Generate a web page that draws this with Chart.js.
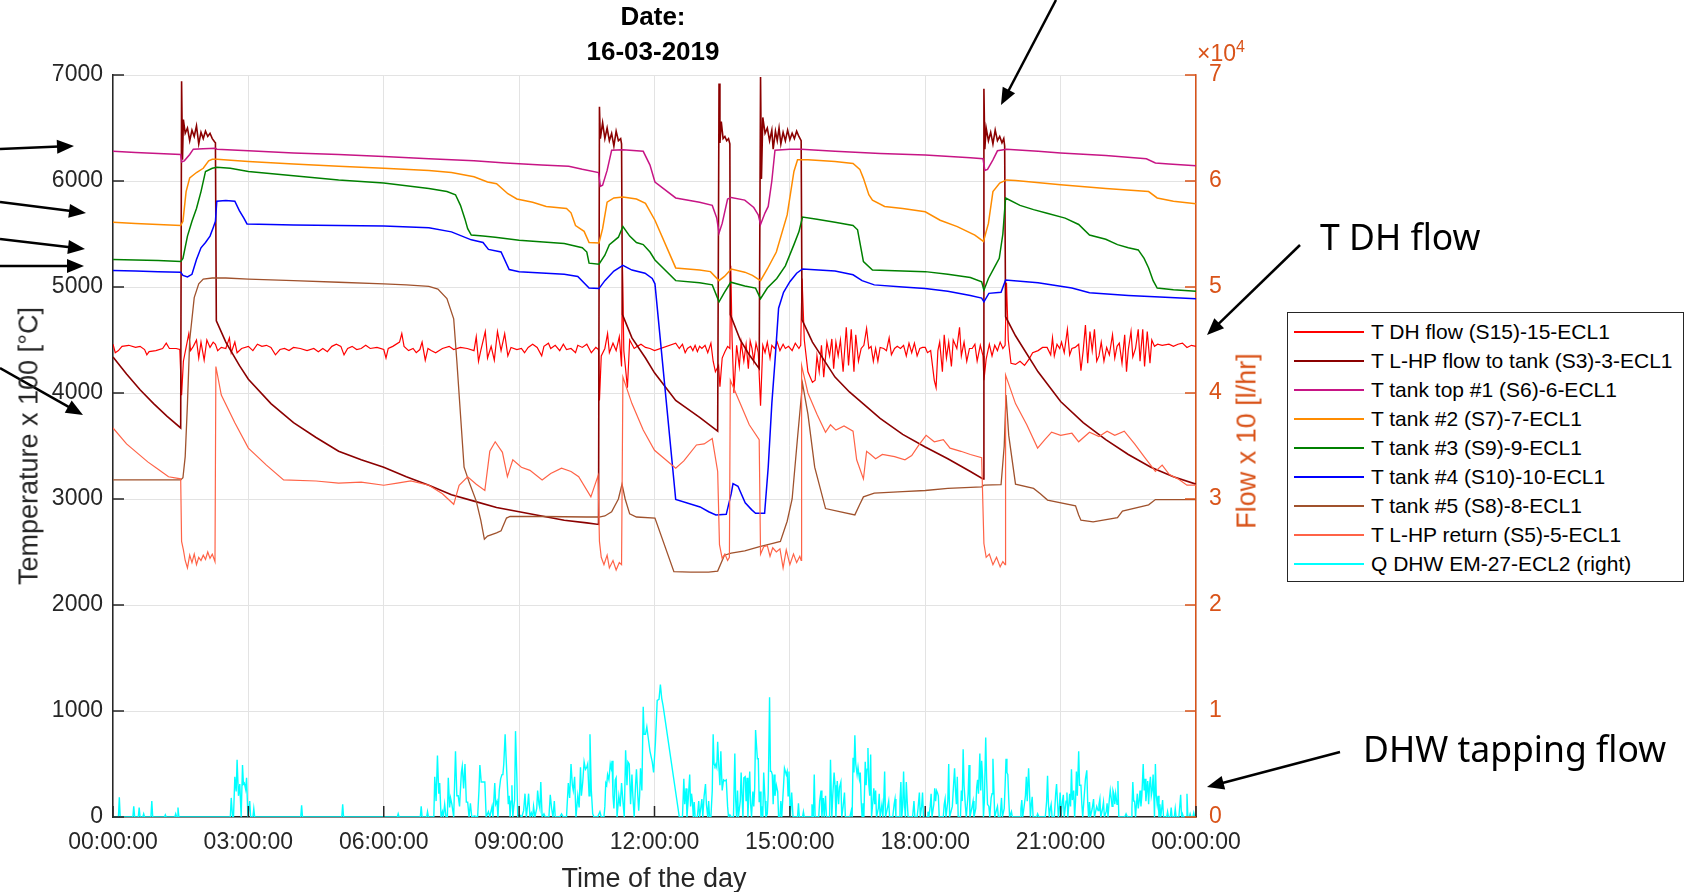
<!DOCTYPE html>
<html>
<head>
<meta charset="utf-8">
<title>16-03-2019</title>
<script src="https://cdn.jsdelivr.net/npm/chart.js@4.4.1/dist/chart.umd.min.js"></script>
<style>
body { margin: 0; background: #fff; }
#wrap { position: relative; width: 1693px; height: 892px; font-family: "Liberation Sans", Arial, sans-serif; color: #262626; overflow: hidden; }
#c { position: absolute; left: 0; top: 0; }
.t { position: absolute; white-space: nowrap; }
.ttl { left: 653px; transform: translate(-50%, -50%); font-weight: bold; font-size: 26px; color: #000; }
.atitle { font-size: 27px; transform: translate(-50%, -50%) rotate(-90deg); }
.note { font-family: "Noto Sans", "Open Sans", sans-serif; font-size: 35.5px; line-height: 1; color: #000; }
#legend { position: absolute; left: 1287px; top: 312px; width: 395px; height: 264px; border: 1px solid #262626; background: #fff; padding-top: 4px; box-sizing: content-box; }
#legend .row { height: 29px; display: flex; align-items: center; font-size: 21px; color: #000; }
#legend .sw { display: inline-block; width: 70px; height: 2px; margin: 0 7px 0 6px; }
</style>
</head>
<body>
<div id="wrap">
  <canvas id="c" width="1693" height="892"></canvas>
  <div class="t ttl" style="top:16px">Date:</div>
  <div class="t ttl" style="top:51px">16-03-2019</div>
  <div class="t atitle" style="left:29px; top:446px">Temperature x 100 [°C]</div>
  <div class="t atitle" style="left:1247px; top:441px; color:#D95319">Flow x 10 [l/hr]</div>
  <div class="t" style="left:654px; top:878px; transform:translate(-50%,-50%); font-size:27px">Time of the day</div>
  <div class="t" style="left:1197px; top:38px; color:#D95319; font-size:23px">×10<sup style="font-size:16px">4</sup></div>
  <div class="t note" style="left:1320px; top:219px">T DH flow</div>
  <div class="t note" style="left:1363px; top:731px">DHW tapping flow</div>
  <div id="legend"></div>
</div>
<script>
// time in hours of the day, temperatures x100 (left axis), flow (right axis)
var seriesNames = [
    "T DH flow (S15)-15-ECL1",
    "T L-HP flow to tank (S3)-3-ECL1",
    "T tank top #1 (S6)-6-ECL1",
    "T tank #2 (S7)-7-ECL1",
    "T tank #3 (S9)-9-ECL1",
    "T tank #4 (S10)-10-ECL1",
    "T tank #5 (S8)-8-ECL1",
    "T L-HP return (S5)-5-ECL1",
    "Q DHW EM-27-ECL2 (right)"
];
var xTicks = [0, 3, 6, 9, 12, 15, 18, 21, 24];

var dhFlow = [[0,4460],[0.05,4380],[0.12,4400],[0.2,4440],[0.35,4450],[0.5,4430],[0.6,4440],[0.7,4410],[0.75,4360],[0.8,4390],[0.95,4400],[1.1,4420],[1.18,4470],[1.25,4420],[1.4,4420],[1.48,4410],[1.52,3980],[1.56,4300],[1.62,4430],[1.68,4560],[1.72,4400],[1.78,4440],[1.85,4500],[1.9,4330],[1.95,4480],[2.02,4310],[2.08,4500],[2.15,4430],[2.22,4480],[2.27,4460],[2.32,4400],[2.4,4430],[2.5,4420],[2.58,4520],[2.62,4380],[2.7,4480],[2.75,4380],[2.85,4420],[3.0,4440],[3.1,4400],[3.2,4460],[3.3,4440],[3.4,4450],[3.5,4430],[3.6,4360],[3.7,4410],[3.8,4420],[3.9,4400],[4.0,4430],[4.15,4420],[4.3,4400],[4.45,4420],[4.55,4390],[4.65,4420],[4.75,4390],[4.85,4440],[4.95,4460],[5.05,4440],[5.12,4360],[5.2,4420],[5.3,4440],[5.4,4410],[5.5,4420],[5.6,4450],[5.7,4420],[5.85,4430],[6.0,4410],[6.05,4330],[6.1,4420],[6.2,4440],[6.35,4480],[6.4,4560],[6.45,4440],[6.55,4400],[6.65,4420],[6.72,4380],[6.8,4410],[6.85,4480],[6.92,4310],[6.98,4420],[7.05,4400],[7.15,4380],[7.3,4420],[7.45,4440],[7.55,4410],[7.7,4430],[7.85,4420],[8.0,4400],[8.05,4530],[8.1,4300],[8.15,4400],[8.25,4580],[8.3,4330],[8.38,4440],[8.45,4310],[8.52,4580],[8.6,4400],[8.68,4560],[8.75,4350],[8.82,4430],[8.95,4410],[9.05,4420],[9.12,4380],[9.2,4430],[9.3,4460],[9.4,4430],[9.5,4350],[9.55,4440],[9.65,4470],[9.7,4420],[9.8,4450],[9.9,4400],[9.98,4460],[10.05,4410],[10.15,4420],[10.25,4380],[10.3,4450],[10.4,4430],[10.5,4460],[10.6,4380],[10.7,4430],[10.76,4410],[10.78,3930],[10.82,4350],[10.9,4420],[10.96,4560],[11.0,4380],[11.08,4470],[11.15,4400],[11.22,4530],[11.27,4250],[11.29,5200],[11.32,4400],[11.4,4050],[11.45,4500],[11.55,4420],[11.62,4440],[11.7,4460],[11.8,4430],[11.9,4420],[12.0,4400],[12.47,4470],[12.55,4420],[12.62,4460],[12.68,4380],[12.73,4420],[12.8,4440],[12.85,4400],[12.9,4450],[12.95,4390],[13.0,4440],[13.05,4420],[13.12,4450],[13.18,4380],[13.25,4470],[13.3,4300],[13.35,4200],[13.42,4260],[13.45,4060],[13.5,4330],[13.56,4390],[13.62,4440],[13.67,4420],[13.69,5200],[13.72,4500],[13.76,4000],[13.82,4450],[13.88,4250],[13.92,4480],[13.98,4300],[14.03,4460],[14.08,4230],[14.12,4490],[14.16,4420],[14.2,4300],[14.25,4470],[14.3,4380],[14.35,3880],[14.4,4450],[14.45,4380],[14.5,4480],[14.56,4330],[14.6,4450],[14.66,4420],[14.72,4480],[14.78,4400],[14.85,4460],[14.9,4420],[14.97,4440],[15.05,4400],[15.12,4470],[15.2,4420],[15.24,4450],[15.27,5080],[15.32,4500],[15.4,4200],[15.5,4100],[15.56,4120],[15.6,4350],[15.65,4200],[15.7,4450],[15.75,4150],[15.82,4480],[15.88,4350],[15.93,4510],[15.97,4230],[16.02,4480],[16.07,4350],[16.12,4500],[16.18,4200],[16.25,4620],[16.3,4260],[16.36,4600],[16.42,4200],[16.46,4550],[16.52,4300],[16.58,4420],[16.64,4450],[16.7,4610],[16.75,4420],[16.8,4440],[16.85,4300],[16.9,4420],[16.95,4300],[17.0,4430],[17.08,4420],[17.14,4400],[17.2,4520],[17.25,4360],[17.32,4420],[17.38,4440],[17.45,4420],[17.52,4450],[17.58,4350],[17.64,4470],[17.7,4380],[17.76,4470],[17.82,4350],[17.88,4420],[17.94,4430],[18.0,4430],[18.05,4380],[18.12,4400],[18.2,4120],[18.24,4050],[18.28,4400],[18.32,4480],[18.38,4200],[18.42,4550],[18.47,4330],[18.52,4480],[18.58,4250],[18.62,4500],[18.7,4420],[18.76,4620],[18.8,4350],[18.86,4480],[18.92,4300],[18.98,4420],[19.04,4420],[19.1,4460],[19.15,4300],[19.22,4450],[19.28,4350],[19.3,4120],[19.35,4320],[19.42,4460],[19.48,4350],[19.54,4450],[19.6,4400],[19.66,4480],[19.72,4420],[19.77,4450],[19.8,5040],[19.84,4500],[19.9,4280],[20.0,4270],[20.1,4300],[20.2,4260],[20.3,4320],[20.38,4380],[20.5,4400],[20.6,4430],[20.7,4430],[20.78,4360],[20.82,4520],[20.86,4350],[20.92,4460],[20.98,4420],[21.02,4480],[21.08,4380],[21.15,4600],[21.2,4360],[21.25,4420],[21.32,4430],[21.4,4460],[21.45,4210],[21.5,4400],[21.55,4640],[21.6,4280],[21.65,4580],[21.7,4400],[21.75,4600],[21.8,4300],[21.85,4350],[21.9,4480],[21.96,4300],[22.02,4430],[22.08,4360],[22.15,4550],[22.2,4330],[22.25,4440],[22.3,4470],[22.36,4280],[22.42,4550],[22.46,4200],[22.5,4410],[22.56,4580],[22.6,4340],[22.66,4420],[22.72,4600],[22.76,4300],[22.82,4600],[22.86,4250],[22.92,4580],[22.98,4280],[23.02,4500],[23.08,4440],[23.15,4460],[23.25,4450],[23.4,4460],[23.5,4440],[23.6,4460],[23.7,4470],[23.8,4430],[23.9,4450],[24.0,4440]];

var hpFlowTank = [[0,4340],[0.3,4180],[0.6,4030],[0.9,3900],[1.2,3780],[1.5,3670],[1.52,6940],[1.54,6200],[1.56,6580],[1.6,6450],[1.65,6500],[1.7,6380],[1.75,6480],[1.8,6420],[1.85,6520],[1.9,6350],[1.95,6460],[2.0,6400],[2.05,6470],[2.1,6420],[2.15,6450],[2.2,6400],[2.25,6370],[2.27,6360],[2.29,4680],[2.5,4480],[2.8,4260],[3.0,4130],[3.5,3900],[4.0,3720],[4.5,3580],[5.0,3450],[5.5,3370],[6.0,3300],[6.5,3210],[7.0,3130],[7.5,3040],[8.0,2980],[8.5,2920],[9.0,2880],[9.5,2840],[10.0,2800],[10.5,2775],[10.76,2760],[10.78,6700],[10.8,6400],[10.85,6550],[10.9,6400],[10.95,6500],[11.0,6380],[11.05,6450],[11.1,6330],[11.15,6470],[11.2,6380],[11.25,6400],[11.27,6350],[11.29,4740],[11.5,4520],[11.8,4330],[12.0,4190],[12.47,3930],[13.0,3770],[13.4,3640],[13.43,6920],[13.45,6360],[13.48,6560],[13.52,6400],[13.56,6420],[13.6,6380],[13.64,6400],[13.67,6350],[13.68,4740],[13.9,4500],[14.1,4360],[14.32,4230],[14.35,6980],[14.37,6020],[14.4,6600],[14.45,6450],[14.5,6500],[14.55,6380],[14.6,6480],[14.63,6300],[14.68,6470],[14.72,6380],[14.76,6500],[14.8,6350],[14.85,6460],[14.9,6380],[14.95,6480],[15.0,6390],[15.05,6450],[15.1,6400],[15.15,6470],[15.2,6420],[15.25,6380],[15.27,4690],[15.5,4480],[16.0,4150],[16.32,4010],[17.0,3760],[17.5,3610],[18.0,3490],[18.5,3380],[19.0,3260],[19.28,3190],[19.3,6870],[19.32,6300],[19.35,6500],[19.4,6380],[19.45,6460],[19.5,6350],[19.55,6480],[19.6,6380],[19.65,6420],[19.7,6360],[19.74,6400],[19.76,6330],[19.78,4720],[20.0,4540],[20.5,4200],[21.0,3920],[21.5,3720],[22.0,3560],[22.5,3420],[23.0,3300],[23.5,3210],[24.0,3140]];

var tankTop1 = [[0,6280],[0.5,6270],[1.0,6260],[1.5,6250],[1.52,6180],[1.58,6190],[1.7,6250],[1.78,6300],[2.0,6305],[2.27,6310],[2.3,6300],[3.0,6285],[4.0,6265],[5.0,6250],[6.0,6230],[7.0,6210],[8.0,6190],[8.7,6170],[9.5,6150],[10.1,6140],[10.4,6110],[10.76,6080],[10.8,5950],[10.85,5960],[10.95,6100],[11.05,6290],[11.3,6295],[11.75,6280],[11.9,6150],[12.01,5990],[12.47,5840],[13.0,5800],[13.28,5770],[13.38,5650],[13.43,5510],[13.5,5600],[13.62,5830],[13.7,5845],[14.0,5820],[14.2,5750],[14.3,5680],[14.35,5590],[14.45,5700],[14.52,5760],[14.6,6000],[14.67,6290],[15.0,6300],[15.25,6300],[16.0,6280],[17.0,6260],[18.0,6245],[19.0,6220],[19.28,6210],[19.32,6100],[19.38,6110],[19.5,6200],[19.6,6285],[19.8,6300],[20.5,6280],[21.0,6265],[22.0,6240],[22.9,6210],[23.1,6170],[23.4,6160],[24.0,6145]];

var tank2 = [[0,5610],[0.5,5600],[1.0,5590],[1.5,5580],[1.55,5620],[1.62,5900],[1.7,6030],[1.85,6080],[2.0,6120],[2.12,6190],[2.2,6205],[2.3,6205],[3.0,6185],[4.0,6160],[5.0,6140],[6.0,6120],[7.0,6100],[7.5,6080],[8.0,6040],[8.3,5990],[8.5,5975],[8.75,5880],[8.95,5830],[9.3,5800],[9.6,5760],[10.05,5740],[10.15,5700],[10.25,5580],[10.44,5525],[10.55,5420],[10.77,5415],[10.85,5550],[10.95,5800],[11.1,5840],[11.3,5850],[11.6,5830],[11.8,5790],[12.01,5630],[12.47,5180],[13.0,5160],[13.24,5145],[13.43,5060],[13.55,5100],[13.7,5170],[14.0,5140],[14.17,5110],[14.35,5060],[14.5,5170],[14.7,5330],[14.94,5680],[15.09,6090],[15.17,6200],[15.4,6200],[16.0,6185],[16.4,6165],[16.55,6110],[16.63,6025],[16.75,5870],[16.83,5820],[17.1,5760],[17.5,5740],[18.0,5710],[18.33,5630],[18.71,5570],[19.1,5490],[19.29,5430],[19.4,5600],[19.5,5900],[19.65,5980],[19.8,6010],[20.0,6005],[21.0,5965],[22.0,5930],[22.95,5900],[23.14,5840],[23.5,5810],[24.0,5785]];

var tank3 = [[0,5260],[0.5,5255],[1.0,5250],[1.5,5240],[1.55,5270],[1.65,5480],[1.75,5620],[1.85,5740],[1.95,5900],[2.05,6090],[2.2,6120],[2.3,6130],[2.6,6120],[3.0,6090],[4.0,6050],[5.0,6010],[6.0,5980],[7.0,5930],[7.4,5900],[7.59,5870],[7.7,5770],[7.8,5640],[7.86,5550],[7.94,5490],[8.2,5480],[8.47,5470],[9.0,5440],[10.0,5410],[10.4,5370],[10.5,5330],[10.55,5225],[10.77,5215],[10.9,5300],[11.0,5400],[11.2,5470],[11.3,5570],[11.45,5480],[11.6,5420],[11.75,5400],[11.9,5330],[12.01,5255],[12.47,5060],[13.0,5040],[13.28,5020],[13.43,4860],[13.55,4950],[13.69,5045],[14.0,5010],[14.24,4990],[14.35,4890],[14.5,4990],[14.71,5080],[14.9,5200],[15.09,5400],[15.2,5520],[15.28,5660],[15.6,5640],[16.0,5610],[16.4,5580],[16.5,5540],[16.63,5240],[16.83,5160],[17.5,5150],[18.0,5145],[18.5,5120],[19.0,5090],[19.25,5050],[19.3,4970],[19.4,5080],[19.55,5200],[19.64,5270],[19.72,5500],[19.78,5840],[20.1,5770],[20.4,5730],[20.7,5695],[21.1,5650],[21.4,5590],[21.64,5490],[22.0,5450],[22.26,5400],[22.5,5370],[22.72,5350],[22.85,5270],[22.95,5180],[23.05,5060],[23.14,4990],[23.5,4975],[24.0,4960]];

var tank4 = [[0,5155],[0.5,5150],[1.0,5145],[1.5,5140],[1.55,5110],[1.65,5095],[1.75,5120],[1.85,5260],[1.95,5370],[2.05,5420],[2.15,5480],[2.22,5560],[2.27,5620],[2.3,5810],[2.5,5815],[2.7,5810],[2.8,5720],[2.9,5650],[2.97,5595],[3.5,5590],[4.0,5585],[5.0,5580],[6.0,5575],[7.0,5560],[7.5,5520],[7.94,5445],[8.2,5420],[8.32,5355],[8.6,5330],[8.78,5165],[9.0,5145],[10.0,5120],[10.3,5100],[10.55,4990],[10.77,4985],[10.9,5060],[11.1,5150],[11.3,5205],[11.5,5160],[11.79,5130],[11.95,5080],[12.01,5030],[12.47,2995],[13.01,2925],[13.2,2880],[13.36,2850],[13.59,2855],[13.7,3050],[13.74,3145],[13.85,3120],[14.01,2965],[14.15,2900],[14.24,2865],[14.44,2865],[14.52,3300],[14.6,3900],[14.67,4300],[14.75,4800],[14.86,4950],[15.0,5050],[15.15,5130],[15.28,5170],[16.0,5150],[16.4,5115],[16.6,5060],[16.87,5020],[17.5,5000],[18.0,4985],[18.5,4960],[19.0,4920],[19.25,4895],[19.3,4860],[19.41,4940],[19.68,4950],[19.78,5065],[20.5,5040],[21.25,4990],[21.64,4945],[22.5,4920],[23.2,4905],[24.0,4890]];

var tank5 = [[0,3180],[0.5,3180],[1.0,3180],[1.5,3180],[1.55,3200],[1.6,3400],[1.65,3900],[1.7,4500],[1.8,4900],[1.9,5030],[2.0,5075],[2.2,5085],[2.5,5085],[3.0,5075],[4.0,5060],[5.0,5045],[6.0,5030],[6.5,5020],[7.0,5005],[7.2,4980],[7.4,4890],[7.55,4700],[7.62,4300],[7.7,3800],[7.78,3300],[7.9,3150],[8.05,2980],[8.15,2800],[8.23,2620],[8.3,2650],[8.5,2680],[8.6,2700],[8.72,2820],[8.8,2835],[9.5,2835],[10.5,2830],[10.77,2830],[10.9,2840],[11.05,2880],[11.2,3000],[11.28,3140],[11.35,3000],[11.45,2860],[11.6,2830],[12.01,2820],[12.43,2315],[12.8,2310],[13.2,2310],[13.4,2320],[13.55,2470],[13.7,2490],[14.0,2510],[14.33,2550],[14.6,2580],[14.79,2600],[14.94,2790],[15.05,3000],[15.17,3580],[15.28,4090],[15.4,3800],[15.55,3300],[15.79,2910],[16.1,2880],[16.44,2850],[16.55,2950],[16.63,3020],[16.87,3055],[17.5,3070],[18.0,3080],[18.5,3100],[19.25,3115],[19.3,3130],[19.68,3135],[19.75,3500],[19.79,3980],[19.85,3600],[20.0,3140],[20.4,3100],[20.55,3050],[20.71,2990],[21.33,2935],[21.4,2850],[21.45,2800],[21.72,2785],[22.26,2825],[22.37,2885],[22.95,2945],[23.1,2995],[24.0,2995]];

var hpReturn = [[0,3670],[0.3,3520],[0.77,3350],[1.0,3280],[1.23,3210],[1.5,3190],[1.52,2600],[1.56,2520],[1.6,2420],[1.65,2350],[1.7,2470],[1.75,2400],[1.8,2480],[1.85,2380],[1.9,2450],[1.95,2420],[2.0,2470],[2.05,2430],[2.1,2500],[2.15,2440],[2.2,2480],[2.26,2410],[2.28,4250],[2.4,3980],[2.7,3720],[3.0,3480],[3.4,3320],[3.78,3180],[4.5,3170],[5.0,3150],[5.5,3160],[6.0,3130],[6.3,3150],[6.6,3170],[7.0,3130],[7.3,3050],[7.55,2950],[7.67,3130],[7.86,3210],[8.05,3140],[8.24,3080],[8.35,3450],[8.47,3540],[8.63,3440],[8.74,3210],[8.86,3370],[9.05,3300],[9.24,3270],[9.51,3180],[9.7,3240],[9.94,3290],[10.15,3260],[10.32,3210],[10.59,3020],[10.75,3220],[10.78,2600],[10.82,2450],[10.88,2380],[10.95,2470],[11.0,2350],[11.08,2420],[11.15,2330],[11.22,2400],[11.27,2380],[11.3,4150],[11.5,3900],[11.75,3650],[12.0,3460],[12.47,3290],[12.65,3360],[12.93,3510],[13.1,3520],[13.28,3570],[13.4,3260],[13.44,2570],[13.5,2440],[13.56,2480],[13.62,2420],[13.66,2450],[13.68,4120],[13.9,3900],[14.1,3700],[14.32,3560],[14.35,2480],[14.42,2550],[14.5,2560],[14.56,2460],[14.62,2540],[14.7,2500],[14.78,2530],[14.85,2350],[14.92,2520],[15.0,2380],[15.08,2480],[15.15,2400],[15.22,2460],[15.25,2420],[15.26,4260],[15.4,4000],[15.6,3800],[15.79,3630],[15.9,3700],[16.02,3650],[16.2,3690],[16.4,3640],[16.48,3370],[16.63,3190],[16.7,3450],[16.79,3420],[16.9,3380],[17.05,3420],[17.32,3400],[17.55,3370],[17.7,3410],[17.86,3510],[18.02,3600],[18.2,3540],[18.4,3560],[18.55,3480],[18.79,3450],[19.0,3420],[19.25,3390],[19.3,2580],[19.35,2450],[19.42,2480],[19.5,2380],[19.58,2450],[19.66,2360],[19.72,2410],[19.77,2380],[19.78,4170],[20.0,3900],[20.25,3700],[20.49,3480],[20.65,3560],[20.8,3630],[21.0,3600],[21.25,3620],[21.4,3540],[21.64,3630],[21.85,3590],[22.03,3640],[22.2,3600],[22.41,3640],[22.64,3520],[22.85,3400],[23.1,3260],[23.25,3320],[23.41,3230],[23.6,3190],[23.8,3130],[24.0,3130]];

var dhwFlow = [[0,0],[0.12,0],[0.14,1850],[0.16,0],[0.44,0],[0.46,1000],[0.48,0],[0.56,0],[0.58,900],[0.6,0],[0.66,0],[0.68,300],[0.7,0],[0.84,0],[0.86,1500],[0.88,0],[1.14,0],[1.16,200],[1.18,0],[1.37,0],[1.39,300],[1.41,0],[1.43,0],[1.44,900],[1.46,0],[2.6,0],[2.62,1800],[2.65,0],[2.67,0],[2.7,3800],[2.73,2400],[2.75,5400],[2.78,2000],[2.81,3100],[2.84,0],[2.87,4900],[2.89,3100],[2.91,3200],[2.94,2600],[2.96,3700],[2.99,0],[3.03,1500],[3.05,0],[3.1,0],[3.12,800],[3.14,0],[4.16,0],[4.18,1100],[4.2,0],[5.07,0],[5.09,1200],[5.11,0],[6.3,0],[6.32,300],[6.34,0],[6.81,0],[6.83,1000],[6.85,0],[6.95,0],[6.97,500],[6.99,0],[7.11,0],[7.13,3800],[7.16,1500],[7.19,5800],[7.22,2200],[7.24,3200],[7.27,0],[7.3,500],[7.32,0],[7.35,1200],[7.38,0],[7.41,0],[7.43,3700],[7.46,900],[7.48,1800],[7.51,1200],[7.55,0],[7.59,6200],[7.62,2000],[7.65,2000],[7.68,1000],[7.72,4200],[7.74,4800],[7.77,2700],[7.8,5000],[7.83,1400],[7.86,1400],[7.89,0],[7.92,1300],[7.95,0],[8.01,100],[8.08,0],[8.11,2500],[8.13,4900],[8.16,3300],[8.18,3300],[8.21,3300],[8.24,3300],[8.27,0],[8.3,300],[8.32,500],[8.35,0],[8.4,1000],[8.42,0],[8.46,3200],[8.48,1200],[8.51,1500],[8.53,0],[8.56,2500],[8.59,3600],[8.62,4000],[8.64,4000],[8.66,5000],[8.69,7800],[8.71,5700],[8.73,5700],[8.76,1200],[8.78,2000],[8.8,0],[8.82,1500],[8.84,3000],[8.86,0],[8.88,900],[8.9,1600],[8.92,8100],[8.95,3700],[8.97,0],[9.01,200],[9.06,0],[9.1,600],[9.13,2200],[9.16,0],[9.19,1200],[9.21,2200],[9.24,0],[9.27,400],[9.3,0],[9.32,1000],[9.35,0],[9.39,800],[9.41,2500],[9.44,1200],[9.46,800],[9.48,3300],[9.51,0],[9.55,300],[9.58,0],[9.66,0],[9.69,2100],[9.72,800],[9.75,0],[9.78,1500],[9.8,0],[9.9,0],[9.94,300],[9.98,0],[10.05,0],[10.09,3200],[10.12,1800],[10.15,5000],[10.18,3000],[10.2,2500],[10.23,3800],[10.26,0],[10.3,2000],[10.33,900],[10.36,4700],[10.38,2000],[10.41,3300],[10.44,5200],[10.47,4500],[10.5,4700],[10.52,5000],[10.55,2000],[10.57,7800],[10.6,2500],[10.63,300],[10.66,0],[10.74,0],[10.79,500],[10.82,0],[10.88,0],[10.9,1000],[10.92,3200],[10.94,3000],[10.96,4000],[10.99,3500],[11.02,5000],[11.04,4600],[11.06,5300],[11.08,2000],[11.1,800],[11.13,3500],[11.15,3700],[11.17,0],[11.21,2000],[11.24,1000],[11.27,3200],[11.3,1500],[11.33,0],[11.36,6300],[11.39,3000],[11.41,5200],[11.44,5000],[11.47,1200],[11.5,4000],[11.52,2000],[11.55,0],[11.58,3000],[11.6,4500],[11.63,2000],[11.65,600],[11.67,2000],[11.69,4600],[11.72,2500],[11.75,10400],[11.77,7800],[11.8,7800],[11.83,8500],[11.86,7500],[11.9,6200],[11.95,5200],[11.98,4200],[12.02,7000],[12.06,11000],[12.1,11100],[12.13,12500],[12.16,11200],[12.19,10500],[12.55,0],[12.62,0],[12.65,3600],[12.67,1200],[12.7,2700],[12.72,0],[12.75,1800],[12.78,4000],[12.8,1000],[12.82,2200],[12.84,1500],[12.86,0],[12.88,1400],[12.9,0],[12.95,0],[12.98,1500],[13.0,0],[13.05,1700],[13.07,0],[13.1,2000],[13.13,3100],[13.15,1200],[13.18,0],[13.2,1500],[13.22,0],[13.25,0],[13.28,2500],[13.3,7800],[13.32,5000],[13.34,4800],[13.36,5000],[13.38,4700],[13.4,7100],[13.42,5200],[13.45,3000],[13.47,6200],[13.5,2500],[13.53,3500],[13.56,3400],[13.59,3500],[13.62,1000],[13.64,0],[13.67,200],[13.7,0],[13.75,0],[13.78,6000],[13.8,1500],[13.82,0],[13.84,2500],[13.86,0],[13.9,1500],[13.92,4200],[13.94,2000],[13.96,0],[13.98,3700],[14.01,3800],[14.03,1500],[14.05,3700],[14.07,0],[14.11,4300],[14.13,1200],[14.15,0],[14.18,2400],[14.2,1000],[14.22,2700],[14.24,8200],[14.26,6800],[14.28,5500],[14.3,5500],[14.32,1400],[14.34,2400],[14.36,0],[14.38,1000],[14.4,0],[14.42,4200],[14.45,1500],[14.47,0],[14.5,300],[14.52,2200],[14.55,11300],[14.57,4300],[14.59,4300],[14.61,4000],[14.63,1200],[14.65,4000],[14.67,2000],[14.7,3000],[14.73,2400],[14.75,0],[14.78,0],[14.8,1500],[14.82,0],[14.86,3000],[14.88,4600],[14.9,4300],[14.92,4000],[14.94,4300],[14.96,2000],[14.98,4300],[15.01,0],[15.04,2300],[15.07,0],[15.17,0],[15.19,1300],[15.21,0],[15.28,0],[15.3,500],[15.32,0],[15.47,0],[15.49,1200],[15.52,0],[15.54,4000],[15.56,0],[15.64,0],[15.66,1500],[15.69,2500],[15.71,0],[15.74,1800],[15.76,0],[15.79,2000],[15.81,0],[15.88,0],[15.9,5400],[15.93,0],[15.95,2000],[15.98,4200],[16.0,3000],[16.02,0],[16.05,3400],[16.08,1200],[16.1,2800],[16.13,3300],[16.15,0],[16.18,1000],[16.21,2300],[16.23,0],[16.33,0],[16.36,600],[16.38,0],[16.4,5600],[16.42,4200],[16.44,7700],[16.46,5000],[16.49,4000],[16.51,4700],[16.54,3600],[16.56,4200],[16.58,1500],[16.6,0],[16.62,1300],[16.64,0],[16.67,5200],[16.69,3000],[16.71,4500],[16.73,6500],[16.75,3000],[16.77,2000],[16.79,5900],[16.81,0],[16.84,1500],[16.86,2700],[16.88,1200],[16.9,2500],[16.92,0],[16.96,800],[16.98,2200],[17.0,0],[17.04,1200],[17.06,0],[17.08,1500],[17.1,4300],[17.12,0],[17.16,800],[17.19,1500],[17.21,0],[17.28,0],[17.31,1200],[17.33,1700],[17.35,0],[17.42,0],[17.44,1500],[17.46,3300],[17.48,0],[17.5,1000],[17.52,4300],[17.54,1200],[17.56,0],[17.58,3300],[17.6,1500],[17.62,0],[17.72,0],[17.75,1500],[17.77,0],[17.82,0],[17.84,800],[17.87,2300],[17.89,0],[17.92,1000],[17.94,2300],[17.96,0],[18.04,0],[18.06,500],[18.08,0],[18.11,1000],[18.13,2200],[18.15,0],[18.19,1200],[18.21,2700],[18.23,1500],[18.25,2500],[18.27,2300],[18.29,2000],[18.31,0],[18.4,0],[18.42,1200],[18.44,1700],[18.46,0],[18.5,1500],[18.52,5000],[18.54,0],[18.6,1000],[18.62,2500],[18.65,4600],[18.67,2500],[18.69,1200],[18.71,3800],[18.73,0],[18.78,0],[18.8,2500],[18.82,1500],[18.84,6400],[18.86,3000],[18.89,1000],[18.91,0],[18.95,2200],[18.97,4900],[18.99,0],[19.03,800],[19.06,1500],[19.08,0],[19.12,800],[19.14,2800],[19.16,3500],[19.18,2200],[19.21,6000],[19.23,2500],[19.25,5300],[19.27,3800],[19.29,0],[19.31,1500],[19.34,7500],[19.36,3600],[19.38,1200],[19.41,1000],[19.43,0],[19.46,1800],[19.48,2200],[19.5,5500],[19.52,2700],[19.54,0],[19.58,700],[19.6,1000],[19.62,0],[19.66,0],[19.69,1800],[19.71,0],[19.75,800],[19.77,3000],[19.79,5500],[19.81,4200],[19.83,4000],[19.85,1700],[19.87,0],[19.91,500],[19.93,0],[20.1,0],[20.12,800],[20.14,1600],[20.16,0],[20.2,1300],[20.22,2000],[20.24,3800],[20.26,1500],[20.29,4600],[20.31,2500],[20.33,0],[20.35,1200],[20.37,1900],[20.39,0],[20.47,0],[20.49,300],[20.52,0],[20.66,0],[20.69,1500],[20.71,3900],[20.73,1200],[20.75,0],[20.77,800],[20.79,1200],[20.81,0],[20.86,0],[20.89,2200],[20.91,3100],[20.93,1500],[20.95,0],[20.97,800],[20.99,2300],[21.01,0],[21.04,1500],[21.06,2100],[21.08,0],[21.12,1500],[21.14,2300],[21.16,0],[21.2,2200],[21.22,1000],[21.24,4500],[21.26,1600],[21.29,2500],[21.31,0],[21.33,1500],[21.35,4300],[21.37,2000],[21.4,6200],[21.42,3000],[21.45,3000],[21.47,1200],[21.49,0],[21.52,1800],[21.55,3600],[21.58,4400],[21.6,1400],[21.62,0],[21.64,1400],[21.66,0],[21.7,800],[21.73,1700],[21.75,0],[21.8,1000],[21.83,600],[21.85,1200],[21.87,1700],[21.89,0],[21.93,800],[21.95,1400],[21.97,0],[22.01,500],[22.03,1300],[22.05,0],[22.08,1700],[22.1,2500],[22.12,1800],[22.14,1000],[22.16,2500],[22.18,2200],[22.2,1200],[22.22,2200],[22.25,1200],[22.27,3400],[22.29,0],[22.42,0],[22.45,300],[22.48,0],[22.56,0],[22.58,800],[22.6,3300],[22.62,1500],[22.64,1500],[22.66,0],[22.68,1200],[22.7,2200],[22.72,800],[22.74,1500],[22.76,2500],[22.78,1000],[22.8,2000],[22.83,5000],[22.85,2500],[22.87,3600],[22.89,1500],[22.91,2500],[22.93,3400],[22.95,1200],[22.97,3000],[22.99,3800],[23.01,2000],[23.03,2500],[23.05,4000],[23.07,1500],[23.08,0],[23.1,5000],[23.12,2000],[23.14,1200],[23.16,2000],[23.18,0],[23.2,1200],[23.22,0],[23.24,800],[23.26,1600],[23.28,0],[23.35,0],[23.37,500],[23.39,0],[23.43,0],[23.45,900],[23.47,0],[23.52,0],[23.54,800],[23.56,0],[23.62,0],[23.64,1000],[23.66,2100],[23.68,0],[23.7,300],[23.72,0],[23.78,0],[23.8,2200],[23.82,0],[23.85,0],[23.87,300],[23.89,0],[23.93,0],[23.95,400],[23.97,0],[24,0]];

var allSeries = [dhFlow, hpFlowTank, tankTop1, tank2, tank3, tank4, tank5, hpReturn, dhwFlow];
var colors = ["#FF0000", "#8B0000", "#C71585", "#FF8C00", "#008000", "#0000FF", "#A0522D", "#FF6347", "#00FFFF"];
var widths = [1.2, 1.6, 1.5, 1.5, 1.5, 1.5, 1.3, 1.2, 1.4];
var orange = "#D95319";

// annotation arrows [x0, y0, x1, y1] in canvas pixels, head at (x1, y1)
var arrows = [[1056,0,1001,105],[0,149,74,146],[0,202,86,213],[0,239,85,249],[0,266,84,266],[0,368,83,415],[1300,245,1207,335],[1340,752,1207,787]];

Chart.defaults.font.family = '"Liberation Sans", Arial, sans-serif';
Chart.defaults.font.size = 23;

var datasets = allSeries.map(function (s, i) {
    return {
        label: seriesNames[i],
        data: s.map(function (p) { return { x: p[0], y: p[1] }; }),
        borderColor: colors[i],
        backgroundColor: colors[i],
        borderWidth: widths[i],
        pointRadius: 0,
        fill: false,
        tension: 0,
        yAxisID: i === 8 ? 'y1' : 'y',
        order: 9 - i
    };
});

var innerTicks = {
    id: 'innerTicks',
    afterDraw: function (chart) {
        var ctx = chart.ctx, a = chart.chartArea, sc = chart.scales;
        ctx.save();
        ctx.lineWidth = 1.5;
        ctx.strokeStyle = '#262626';
        ctx.beginPath();
        sc.y.ticks.forEach(function (t) {
            var py = sc.y.getPixelForValue(t.value);
            ctx.moveTo(a.left, py); ctx.lineTo(a.left + 11, py);
        });
        sc.x.ticks.forEach(function (t) {
            var px = sc.x.getPixelForValue(t.value);
            ctx.moveTo(px, a.bottom); ctx.lineTo(px, a.bottom - 11);
        });
        ctx.stroke();
        ctx.strokeStyle = orange;
        ctx.beginPath();
        sc.y1.ticks.forEach(function (t) {
            var py = sc.y1.getPixelForValue(t.value);
            ctx.moveTo(a.right, py); ctx.lineTo(a.right - 11, py);
        });
        ctx.stroke();

        // arrows
        ctx.strokeStyle = '#000';
        ctx.fillStyle = '#000';
        ctx.lineWidth = 2.5;
        arrows.forEach(function (ar) {
            var dx = ar[2] - ar[0], dy = ar[3] - ar[1];
            var len = Math.sqrt(dx * dx + dy * dy);
            var ux = dx / len, uy = dy / len;
            var hl = 17, hw = 7;
            var bx = ar[2] - ux * hl, by = ar[3] - uy * hl;
            ctx.beginPath();
            ctx.moveTo(ar[0], ar[1]);
            ctx.lineTo(bx + ux * 2, by + uy * 2);
            ctx.stroke();
            ctx.beginPath();
            ctx.moveTo(ar[2], ar[3]);
            ctx.lineTo(bx - uy * hw, by + ux * hw);
            ctx.lineTo(bx + uy * hw, by - ux * hw);
            ctx.closePath();
            ctx.fill();
        });
        ctx.restore();
    }
};

var ctx = document.getElementById('c').getContext('2d');
var chart = new Chart(ctx, {
    type: 'line',
    data: { datasets: datasets },
    options: {
        responsive: false,
        animation: false,
        devicePixelRatio: 1,
        layout: { padding: { top: 75, left: 0, right: 0, bottom: 0 } },
        plugins: { legend: { display: false }, tooltip: { enabled: false } },
        scales: {
            x: {
                type: 'linear', min: 0, max: 24,
                afterBuildTicks: function (s) { s.ticks = xTicks.map(function (v) { return { value: v }; }); },
                ticks: {
                    color: '#262626', padding: 12, maxRotation: 0, autoSkip: false,
                    callback: function (v) { return String(v % 24).padStart(2, '0') + ':00:00'; }
                },
                grid: { color: '#E3E3E3', lineWidth: 1, drawTicks: false },
                border: { color: '#262626', width: 1.5 },
                afterFit: function (s) { s.height = 75; }
            },
            y: {
                position: 'left', min: 0, max: 7000,
                ticks: { stepSize: 1000, color: '#262626', padding: 10,
                    callback: function (v) { return String(v); } },
                grid: { color: '#E3E3E3', lineWidth: 1, drawTicks: false },
                border: { color: '#262626', width: 1.5 },
                afterFit: function (s) { s.width = 113; }
            },
            y1: {
                position: 'right', min: 0, max: 70000,
                ticks: { stepSize: 10000, color: orange, padding: 13,
                    callback: function (v) { return String(v / 10000); } },
                grid: { drawOnChartArea: false, drawTicks: false },
                border: { color: orange, width: 1.5 },
                afterFit: function (s) { s.width = 1693 - 1196; }
            }
        }
    },
    plugins: [innerTicks]
});

// legend
var leg = document.getElementById('legend');
seriesNames.forEach(function (name, i) {
    var row = document.createElement('div');
    row.className = 'row';
    var sw = document.createElement('span');
    sw.className = 'sw';
    sw.style.background = colors[i];
    row.appendChild(sw);
    row.appendChild(document.createTextNode(name));
    leg.appendChild(row);
});
</script>
</body>
</html>
